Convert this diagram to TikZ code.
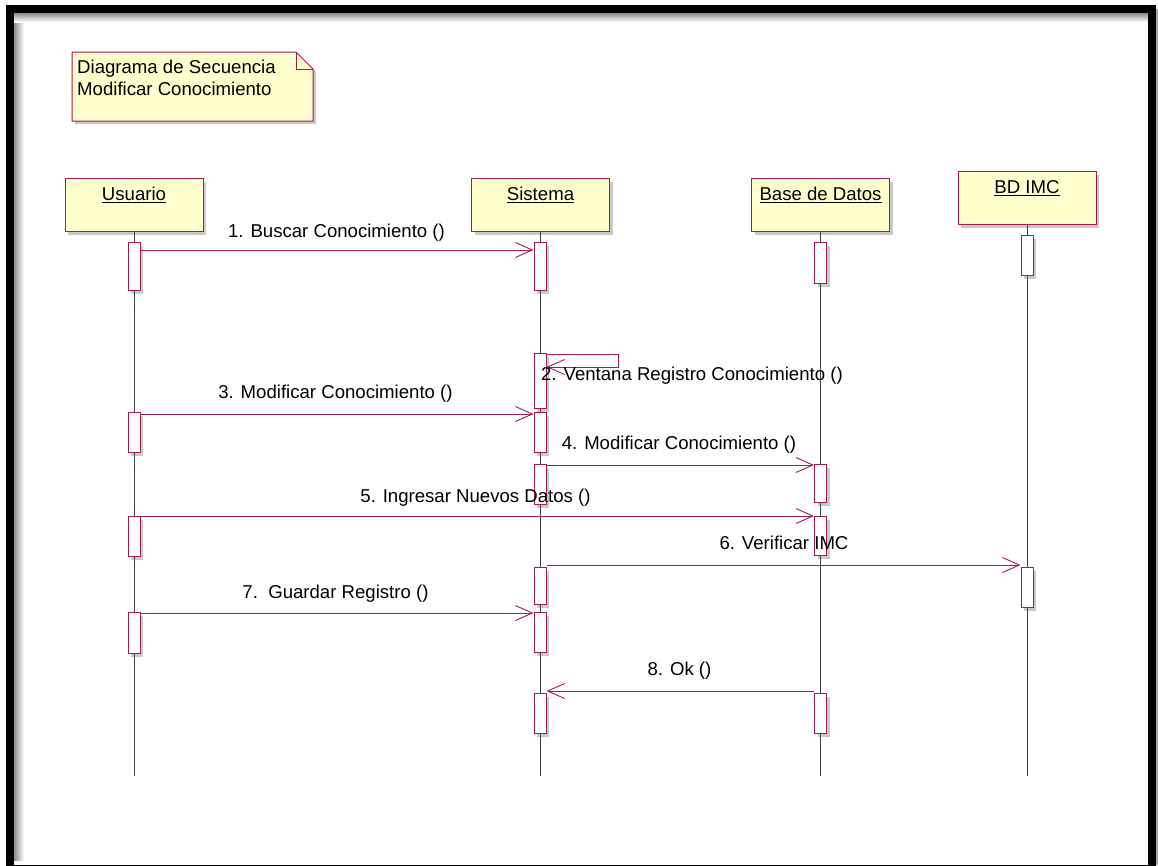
\documentclass[tikz,border=0pt]{standalone}
\usepackage{fontspec}
\setmainfont{Liberation Sans}
\usetikzlibrary{arrows.meta,shadows}

\definecolor{borde}{RGB}{165,28,78}
\definecolor{amarillo}{RGB}{255,255,206}

\tikzset{
  sombra/.style={drop shadow={shadow xshift=3pt,shadow yshift=-3pt,opacity=0.35,fill=black!60}},
  obj/.style={draw=borde,fill=amarillo,line width=1pt,anchor=north,minimum width=138pt,
    inner xsep=0pt,inner ysep=8.5pt,text height=13.5pt,text depth=22.5pt,sombra},
  act/.style={draw=borde,fill=white,line width=1pt,minimum width=12pt,inner sep=0pt,anchor=north,sombra},
  msg/.style={draw=borde,line width=0.9pt,-{Straight Barb[length=17pt,width=15pt]}},
  lbl/.style={anchor=base,inner sep=0pt},
  vida/.style={draw=black!75,line width=0.7pt}
}

\begin{document}
\begin{tikzpicture}[x=1pt,y=-1pt,font=\fontsize{18.6}{22}\selectfont]
\useasboundingbox (0,0) rectangle (1158,865);

% marco
\shade[left color=black!45,right color=white] (14,13) rectangle (24,860);
\shade[top color=black!45,bottom color=white] (14,13) rectangle (1148,22);
\fill[black!35] (1156,9) rectangle (1158,865);
\draw[line width=8pt] (10,9) rectangle (1152,869);

% nota
\draw[draw=borde,fill=amarillo,line width=1pt,sombra] (72,52) -- (296,52) -- (313,69) -- (313,121) -- (72,121) -- cycle;
\draw[draw=borde,line width=1pt] (296,52) -- (296,69) -- (313,69);
\node[anchor=north west,align=left,inner sep=0pt] (nota) at (77,60) {Diagrama de Secuencia\\Modificar Conocimiento};

% objetos
\node[obj] (usr) at (134,178) {\underline{Usuario}};
\node[obj] (sis) at (540.5,178) {\underline{Sistema}};
\node[obj] (bd) at (820.5,178) {\underline{Base de Datos}};
\node[obj] (imc) at (1027,171) {\underline{BD IMC}};

% lineas de vida
\coordinate (fin) at (0,776);
\foreach \o in {usr,sis,bd,imc}
  \draw[vida] (\o.south) -- (\o.south |- fin);

% activaciones
\foreach \n/\x/\t/\h in {u1/134/242/48, s1/540/242/48, b1/820.5/242/41, i1/1027/235/40,
    s2/540/353/55, u3/134/412/40, s3/540/412/40, s4/540/464/40, b4/820.5/464/38,
    u5/134/516/40, b5/820.5/516/39, s6/540/567/37, i6/1027/567/40,
    u7/134/612/41, s7/540/612/40, s8/540/693/40, b8/820.5/693/40}
  \node[act,minimum height=\h pt] (\n) at (\x,\t) {};

% mensajes
\draw[msg] ([yshift=-8pt]u1.north east) -- ([yshift=-8pt]s1.north west);
\draw[msg] ([yshift=-1pt]s2.north east) -- ++(72,0) -- ++(0,13) -- ([yshift=-14pt]s2.north east);
\draw[msg] ([yshift=-2pt]u3.north east) -- ([yshift=-2pt]s3.north west);
\draw[msg] ([yshift=-1pt]s4.north east) -- ([yshift=-1pt]b4.north west);
\draw[msg] (u5.north east) -- (b5.north west);
\draw[msg] ([yshift=2pt]s6.north east) -- ([yshift=2pt]i6.north west);
\draw[msg] ([yshift=-1pt]u7.north east) -- ([yshift=-1pt]s7.north west);
\draw[msg] ([yshift=2pt]b8.north west) -- ([yshift=2pt]s8.north east);

% etiquetas
\node[lbl] (m1) at (336.5,237) {1. Buscar Conocimiento ()};
\node[lbl] (m2) at (692,380) {2. Ventana Registro Conocimiento ()};
\node[lbl] (m3) at (335.5,398) {3. Modificar Conocimiento ()};
\node[lbl] (m4) at (679,449) {4. Modificar Conocimiento ()};
\node[lbl] (m5) at (475.5,502) {5. Ingresar Nuevos Datos ()};
\node[lbl] (m6) at (784,549) {6. Verificar IMC};
\node[lbl] (m7) at (335.5,598) {7.~~Guardar Registro ()};
\node[lbl] (m8) at (679.5,675) {8. Ok ()};
\end{tikzpicture}
\end{document}
